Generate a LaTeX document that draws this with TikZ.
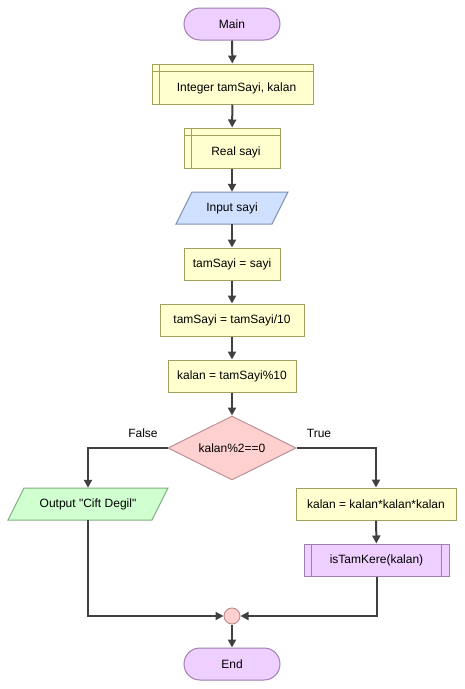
\documentclass[tikz,border=0pt]{standalone}
\usepackage{fontspec}
\setmainfont{Liberation Sans}[Ligatures=TeXOff]
\usetikzlibrary{arrows.meta,shapes.geometric}
\definecolor{termfill}{HTML}{EFCFFF}
\definecolor{termline}{HTML}{9F7FAF}
\definecolor{procfill}{HTML}{FFFFD0}
\definecolor{procline}{HTML}{A0A060}
\definecolor{infill}{HTML}{D0E0FF}
\definecolor{inline}{HTML}{7F8FB5}
\definecolor{outfill}{HTML}{D0FFD0}
\definecolor{outline}{HTML}{7FAF7F}
\definecolor{decfill}{HTML}{FFD0D0}
\definecolor{decline}{HTML}{C09090}
\definecolor{arrowcol}{HTML}{404040}
\begin{document}
\begin{tikzpicture}[x=1pt,y=-1pt,
  font=\fontsize{12}{14}\selectfont,
  base/.style={inner sep=0pt, line width=1pt, text=black},
  term/.style={base, draw=termline, fill=termfill, rectangle, rounded corners=16pt, minimum width=96pt, minimum height=32pt},
  proc/.style={base, draw=procline, fill=procfill, rectangle, minimum height=32pt},
  decl/.style={base, draw=procline, fill=procfill, rectangle, minimum height=40pt},
  callbox/.style={base, draw=termline, fill=termfill, rectangle, minimum height=32pt},
  decision/.style={base, draw=decline, fill=decfill, diamond, aspect=2, minimum width=128pt, minimum height=64pt},
  ioanchor/.style={inner sep=0pt, minimum height=32pt},
  junction/.style={base, draw=decline, fill=decfill, circle, minimum size=16pt},
  conn/.style={draw=arrowcol, line width=2pt, -{Triangle[length=8pt,width=8pt]}},
  lbl/.style={inner sep=0pt, text=black}
]
\useasboundingbox (0,0) rectangle (465,689);
% nodes
\node[term] (main) at (232,24) {Main};
\node[decl, minimum width=161pt] (int) at (232.5,84) {};
\draw[procline, line width=1pt] ([xshift=8pt]int.north west) -- ([xshift=8pt]int.south west);
\draw[procline, line width=1pt] ([yshift=-8pt]int.north west) -- ([yshift=-8pt]int.north east);
\node[lbl] at (236.5,88) {Integer tamSayi, kalan};
\node[decl, minimum width=96pt] (real) at (232,148) {};
\draw[procline, line width=1pt] ([xshift=8pt]real.north west) -- ([xshift=8pt]real.south west);
\draw[procline, line width=1pt] ([yshift=-8pt]real.north west) -- ([yshift=-8pt]real.north east);
\node[lbl] at (236,152) {Real sayi};
% input parallelogram
\draw[draw=inline, fill=infill, line width=1pt] (192,192) -- (288,192) -- (272,224) -- (176,224) -- cycle;
\node[ioanchor, minimum width=96pt] (inp) at (232,208) {Input sayi};
\node[proc, minimum width=96pt] (a1) at (232,264) {tamSayi = sayi};
\node[proc, minimum width=144pt] (a2) at (232,320) {tamSayi = tamSayi/10};
\node[proc, minimum width=128pt] (a3) at (232,376) {kalan = tamSayi\%10};
\node[decision] (dec) at (232,448) {kalan\%2==0};
\node[lbl] at (143,433) {False};
\node[lbl] at (319,433) {True};
% output parallelogram
\draw[draw=outline, fill=outfill, line width=1pt] (24,488) -- (168,488) -- (152,520) -- (8,520) -- cycle;
\node[ioanchor, minimum width=144pt] (out) at (88,504) {Output "Cift Degil"};
\node[proc, minimum width=160pt] (b1) at (376,504) {kalan = kalan*kalan*kalan};
\node[callbox, minimum width=145pt] (b2) at (376.5,560) {isTamKere(kalan)};
\draw[termline, line width=1pt] ([xshift=8pt]b2.north west) -- ([xshift=8pt]b2.south west);
\draw[termline, line width=1pt] ([xshift=-8pt]b2.north east) -- ([xshift=-8pt]b2.south east);
\node[junction] (jn) at (232,616) {};
\node[term] (end) at (232,664) {End};
% connectors
\draw[conn] (main) -- (int);
\draw[conn] (int) -- (real);
\draw[conn] (real) -- (inp);
\draw[conn] (inp) -- (a1);
\draw[conn] (a1) -- (a2);
\draw[conn] (a2) -- (a3);
\draw[conn] (a3) -- (dec);
\draw[conn] (dec.west) -| (out.north);
\draw[conn] (dec.east) -| (b1.north);
\draw[conn] (b1) -- (b2);
\draw[conn] (out.south) |- (jn.west);
\draw[conn] (b2.south) |- (jn.east);
\draw[conn] (jn) -- (end);
\end{tikzpicture}
\end{document}
